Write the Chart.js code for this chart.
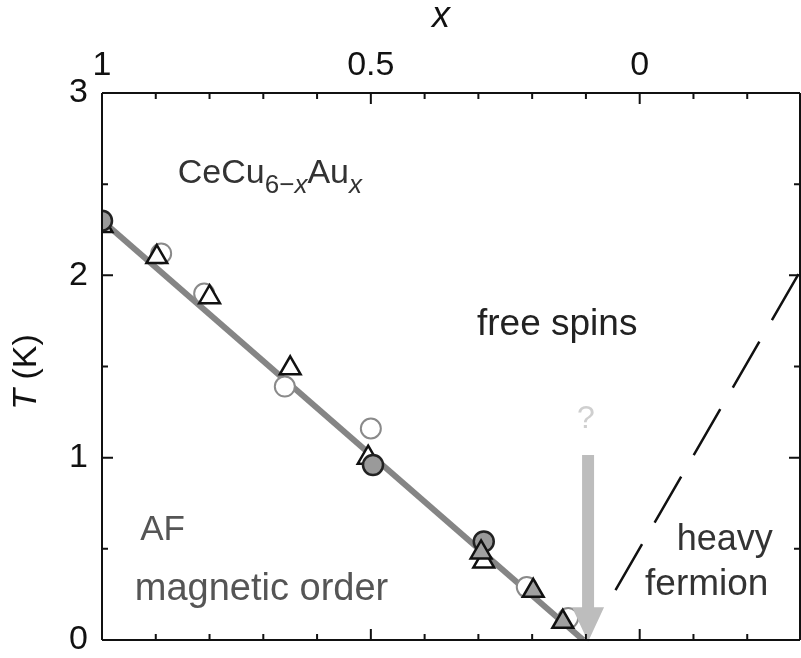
<!DOCTYPE html>
<html><head><meta charset="utf-8">
<script src="https://cdn.jsdelivr.net/npm/chart.js@4/dist/chart.umd.min.js"></script>
<style>html,body{margin:0;padding:0;background:#fff;}canvas{display:block;}</style>
</head><body>
<canvas id="c" width="801" height="658"></canvas>
<script>
// ---- data ----
const xTickValues = [1, 0.5, 0];
const xTickLabels = ['1', '0.5', '0'];
const yTickValues = [0, 1, 2, 3];
const yTickLabels = ['0', '1', '2', '3'];
const xMinorTicks = [0.9, 0.8, 0.7, 0.6, 0.4, 0.3, 0.2, 0.1, -0.1, -0.2];
const yMinorTicks = [0.5, 1.5, 2.5];

const openTriX  = [1.0, 0.898, 0.80, 0.65, 0.505, 0.29];
const openTriT  = [2.27, 2.10, 1.88, 1.49, 1.00, 0.43];
const openCircX = [0.89, 0.81, 0.66, 0.50, 0.21, 0.133];
const openCircT = [2.12, 1.90, 1.39, 1.16, 0.29, 0.12];
const fillCircX = [1.0, 0.496, 0.29];
const fillCircT = [2.30, 0.96, 0.54];
const fillTriX  = [0.295, 0.198, 0.143];
const fillTriT  = [0.48, 0.27, 0.10];
const fitLineX  = [1.0, 0.105];
const fitLineT  = [2.30, 0.0];
const crossoverX = [0.045, -0.30];
const crossoverT = [0.274, 2.03];
const arrowX = [0.096];
const arrowT = [1.015, 0.18, -0.01]; // shaft top, head start, tip

const FONT = '"Liberation Sans", Arial, Helvetica, sans-serif';
const zip = (xs, ys) => xs.map((x, i) => ({x: x, y: ys[i]}));

const annotations = [
  {parts: [{t: 'CeCu', s: 34}, {t: '6\u2212', s: 26, dy: 10}, {t: 'x', s: 26, dy: 10, it: true}, {t: 'Au', s: 34}, {t: 'x', s: 26, dy: 10, it: true}], x: 0.859, T: 2.507, color: '#333'},
  {parts: [{t: 'free spins', s: 37}], x: 0.3026, T: 1.673, color: '#222'},
  {parts: [{t: 'AF', s: 35}], x: 0.929, T: 0.549, color: '#555'},
  {parts: [{t: 'magnetic order', s: 38}], x: 0.939, T: 0.219, color: '#555'},
  {parts: [{t: 'heavy', s: 36}], x: -0.069, T: 0.494, color: '#333'},
  {parts: [{t: 'fermion', s: 37}], x: -0.010, T: 0.247, color: '#333'}
];

function drawRich(ctx, parts, x, y, color) {
  ctx.fillStyle = color;
  ctx.textBaseline = 'alphabetic';
  ctx.textAlign = 'left';
  let cx = x;
  parts.forEach(p => {
    ctx.font = (p.it ? 'italic ' : '') + p.s + 'px ' + FONT;
    ctx.fillText(p.t, cx, y + (p.dy || 0));
    cx += ctx.measureText(p.t).width;
  });
}

function zeroPad(s) { s.paddingLeft = 0; s.paddingRight = 0; s.paddingTop = 0; s.paddingBottom = 0; }

const decor = {
  id: 'decor',
  afterDatasetsDraw(chart) {
    const {ctx, chartArea: a, scales: {x, y}} = chart;
    const ax = x.getPixelForValue(arrowX[0]);
    const yTop = y.getPixelForValue(arrowT[0]);
    const yHead = y.getPixelForValue(arrowT[1]);
    const yTip = y.getPixelForValue(arrowT[2]);
    ctx.save();
    ctx.fillStyle = '#bdbdbd';
    ctx.beginPath();
    ctx.moveTo(ax - 6, yTop);
    ctx.lineTo(ax + 6, yTop);
    ctx.lineTo(ax + 6, yHead);
    ctx.lineTo(ax + 16, yHead);
    ctx.lineTo(ax, yTip);
    ctx.lineTo(ax - 16, yHead);
    ctx.lineTo(ax - 6, yHead);
    ctx.closePath();
    ctx.fill();
    ctx.fillStyle = '#cfcfcf';
    ctx.font = '32px ' + FONT;
    ctx.textAlign = 'center';
    ctx.textBaseline = 'alphabetic';
    ctx.fillText('?', x.getPixelForValue(0.1), y.getPixelForValue(1.163));
    ctx.restore();
  },
  afterDraw(chart) {
    const {ctx, chartArea: a, scales: {x, y}} = chart;
    ctx.save();
    ctx.strokeStyle = '#111';
    ctx.lineWidth = 2;
    ctx.beginPath();
    ctx.moveTo(a.left, a.top); ctx.lineTo(a.right - 1, a.top);
    ctx.moveTo(a.left, a.top); ctx.lineTo(a.left, a.bottom);
    ctx.moveTo(a.left, a.bottom); ctx.lineTo(a.right - 1, a.bottom);
    ctx.moveTo(a.right - 1, a.top); ctx.lineTo(a.right - 1, a.bottom);
    ctx.stroke();
    const major = 11, minor = 6;
    ctx.beginPath();
    const xt = xTickValues.map(v => [v, major]).concat(xMinorTicks.map(v => [v, minor]));
    xt.forEach(([v, len]) => {
      const px = x.getPixelForValue(v);
      ctx.moveTo(px, a.top); ctx.lineTo(px, a.top + len);
      ctx.moveTo(px, a.bottom); ctx.lineTo(px, a.bottom - len);
    });
    const yt = yTickValues.map(v => [v, major]).concat(yMinorTicks.map(v => [v, minor]));
    yt.forEach(([v, len]) => {
      const py = y.getPixelForValue(v);
      ctx.moveTo(a.left, py); ctx.lineTo(a.left + len, py);
      ctx.moveTo(a.right - 1, py); ctx.lineTo(a.right - 1 - len, py);
    });
    ctx.stroke();
    ctx.fillStyle = '#111';
    ctx.font = 'italic 36px ' + FONT;
    ctx.textAlign = 'center';
    ctx.textBaseline = 'alphabetic';
    ctx.fillText('x', 441, 27);
    ctx.translate(36, 372);
    ctx.rotate(-Math.PI / 2);
    ctx.font = 'italic 34px ' + FONT;
    const w1 = ctx.measureText('T').width;
    ctx.font = '34px ' + FONT;
    const w2 = ctx.measureText(' (K)').width;
    ctx.textAlign = 'left';
    ctx.font = 'italic 34px ' + FONT;
    ctx.fillText('T', -(w1 + w2) / 2, 0);
    ctx.font = '34px ' + FONT;
    ctx.fillText(' (K)', -(w1 + w2) / 2 + w1, 0);
    ctx.restore();
    ctx.save();
    annotations.forEach(an => drawRich(ctx, an.parts, x.getPixelForValue(an.x), y.getPixelForValue(an.T), an.color));
    ctx.restore();
  }
};

new Chart(document.getElementById('c'), {
  type: 'scatter',
  data: {
    datasets: [
      {label: 'fit', data: zip(fitLineX, fitLineT), showLine: true, borderColor: '#858585', borderWidth: 6, pointRadius: 0, order: 10},
      {label: 'crossover', data: zip(crossoverX, crossoverT), showLine: true, borderColor: '#111', borderWidth: 2.5, borderDash: [53, 25], pointRadius: 0, order: 9},
      {label: 'open circles', data: zip(openCircX, openCircT), pointStyle: 'circle', pointRadius: 10, borderColor: '#8a8a8a', backgroundColor: '#fff', borderWidth: 2, order: 8},
      {label: 'open triangles', data: zip(openTriX, openTriT), pointStyle: 'triangle', pointRadius: 12, borderColor: '#111', backgroundColor: '#fff', borderWidth: 2.5, order: 7},
      {label: 'filled circles', data: zip(fillCircX, fillCircT), pointStyle: 'circle', pointRadius: 10, borderColor: '#222', backgroundColor: '#9a9a9a', borderWidth: 2.5, order: 6},
      {label: 'filled triangles', data: zip(fillTriX, fillTriT), pointStyle: 'triangle', pointRadius: 12, borderColor: '#111', backgroundColor: '#a0a0a0', borderWidth: 2.5, order: 5}
    ]
  },
  options: {
    responsive: false,
    animation: false,
    devicePixelRatio: 1,
    layout: {autoPadding: false, padding: {left: 0, right: 0, top: 0, bottom: 18}},
    plugins: {legend: {display: false}, tooltip: {enabled: false}},
    elements: {line: {tension: 0}},
    scales: {
      x: {
        type: 'linear', position: 'top', reverse: true, min: -0.3, max: 1,
        grid: {display: false, drawTicks: false}, border: {display: false},
        afterBuildTicks: s => { s.ticks = xTickValues.map(v => ({value: v})); },
        afterFit: s => { s.height = 93; zeroPad(s); },
        ticks: {padding: 7, color: '#111', font: {family: FONT, size: 34},
          callback: v => xTickLabels[xTickValues.indexOf(v)]}
      },
      y: {
        type: 'linear', position: 'left', min: 0, max: 3,
        grid: {display: false, drawTicks: false}, border: {display: false},
        afterBuildTicks: s => { s.ticks = yTickValues.map(v => ({value: v})); },
        afterFit: s => { s.width = 102; zeroPad(s); },
        ticks: {padding: 14, color: '#111', font: {family: FONT, size: 34},
          callback: v => yTickLabels[yTickValues.indexOf(v)]}
      }
    }
  },
  plugins: [decor]
});
</script>
</body></html>
